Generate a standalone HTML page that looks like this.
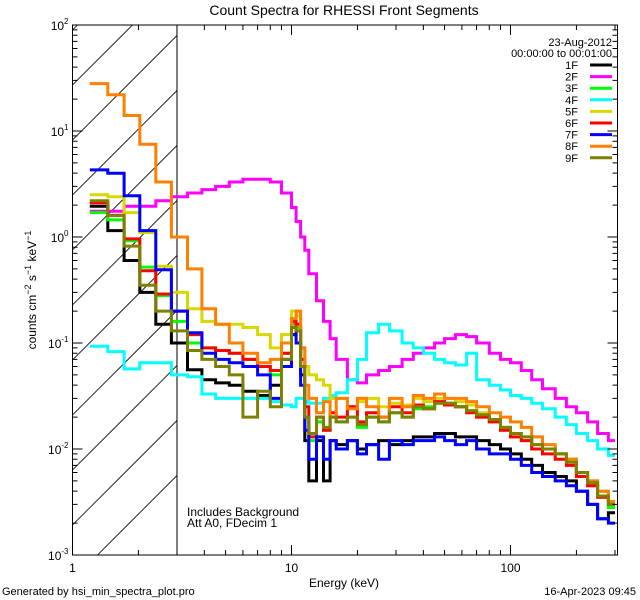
<!DOCTYPE html>
<html><head><meta charset="utf-8">
<style>
html,body{margin:0;padding:0;background:#fff;}
svg{display:block;font-family:"Liberation Sans",sans-serif;}
</style></head>
<body>
<svg id="chart" width="640" height="600" viewBox="0 0 640 600" xmlns="http://www.w3.org/2000/svg">
<rect width="640" height="600" fill="#fff"/>
<text x="344" y="15" font-size="14" text-anchor="middle">Count Spectra for RHESSI Front Segments</text>
<defs>
<clipPath id="pc"><rect x="72.5" y="25" width="545" height="530"/></clipPath>
<clipPath id="hc"><rect x="72.5" y="25" width="104.5" height="530"/></clipPath>
</defs>
<g id="hatch"></g>
<g id="series" clip-path="url(#pc)"></g>
<g id="axes"></g>
<text x="612" y="46" font-size="11" text-anchor="end">23-Aug-2012</text>
<text x="612" y="57" font-size="11" text-anchor="end">00:00:00 to 00:01:00</text>
<g id="legend"></g>
<text x="187" y="516" font-size="12">Includes Background</text>
<text x="187" y="527" font-size="12">Att A0, FDecim 1</text>
<text x="344" y="587" font-size="12" text-anchor="middle">Energy (keV)</text>
<text x="2" y="595" font-size="11">Generated by hsi_min_spectra_plot.pro</text>
<text x="636" y="595" font-size="11" text-anchor="end">16-Apr-2023 09:45</text>
<text transform="translate(36,290) rotate(-90)" font-size="12" text-anchor="middle">counts cm<tspan dy="-5" font-size="9">−2</tspan><tspan dy="5"> s</tspan><tspan dy="-5" font-size="9">−1</tspan><tspan dy="5"> keV</tspan><tspan dy="-5" font-size="9">−1</tspan></text>
</svg>
<script>
const edges=[1.2,1.45,1.72,2.03,2.4,2.83,3.35,3.9,4.5,5.2,6,7,8,9,10,10.5,11,11.5,12,13,14,15,16,18,20,22,25,28,32,36,40,45,50,56,63,70,80,90,100,112,125,140,160,180,200,225,250,280,300];
const seriesNames=["1F","2F","3F","4F","5F","6F","7F","8F","9F"];
const seriesColors=["#000000","#ff00ff","#00ff00","#00ffff","#d8d800","#ff0000","#0000ff","#ff8000","#808000"];
const s1F=[1.95,1.15,0.6,0.3,0.15,0.1,0.056,0.045,0.042,0.04,0.035,0.032,0.04,0.07,0.12,0.14,0.05,0.012,0.005,0.012,0.005,0.012,0.011,0.012,0.01,0.011,0.012,0.011,0.012,0.013,0.013,0.014,0.014,0.013,0.013,0.012,0.011,0.01,0.009,0.008,0.007,0.006,0.0055,0.005,0.004,0.003,0.0022,0.0025];
const s2F=[1.75,1.75,1.95,1.95,2.2,2.4,2.6,2.8,3.0,3.3,3.5,3.5,3.3,2.6,1.9,1.4,1.0,0.75,0.45,0.25,0.16,0.11,0.07,0.045,0.042,0.05,0.055,0.06,0.07,0.08,0.09,0.1,0.11,0.12,0.115,0.1,0.08,0.07,0.065,0.055,0.045,0.037,0.03,0.025,0.022,0.018,0.014,0.012];
const s3F=[1.7,1.45,0.92,0.52,0.28,0.16,0.1,0.09,0.085,0.08,0.07,0.06,0.05,0.08,0.15,0.14,0.06,0.02,0.012,0.018,0.015,0.02,0.018,0.02,0.016,0.02,0.018,0.022,0.02,0.024,0.025,0.027,0.027,0.025,0.023,0.02,0.018,0.016,0.014,0.013,0.011,0.01,0.009,0.008,0.006,0.005,0.004,0.0028];
const s4F=[0.093,0.083,0.057,0.065,0.065,0.05,0.048,0.033,0.03,0.03,0.03,0.03,0.028,0.026,0.025,0.03,0.03,0.028,0.027,0.027,0.03,0.032,0.034,0.045,0.07,0.125,0.15,0.13,0.1,0.09,0.08,0.07,0.065,0.062,0.08,0.045,0.04,0.036,0.032,0.03,0.027,0.024,0.02,0.017,0.014,0.012,0.01,0.0087];
const s5F=[2.5,2.4,1.7,1.1,0.53,0.3,0.21,0.16,0.15,0.15,0.14,0.12,0.09,0.12,0.2,0.18,0.09,0.06,0.05,0.045,0.04,0.03,0.03,0.025,0.028,0.03,0.025,0.027,0.026,0.03,0.028,0.03,0.03,0.028,0.026,0.022,0.018,0.015,0.013,0.012,0.011,0.01,0.009,0.008,0.006,0.0045,0.0035,0.003];
const s6F=[2.1,1.6,0.96,0.48,0.29,0.2,0.12,0.09,0.085,0.08,0.07,0.06,0.055,0.08,0.16,0.15,0.07,0.025,0.013,0.02,0.015,0.022,0.02,0.025,0.018,0.022,0.02,0.025,0.022,0.026,0.024,0.028,0.026,0.025,0.022,0.02,0.018,0.015,0.013,0.012,0.01,0.009,0.008,0.007,0.0055,0.0045,0.0035,0.003];
const s7F=[4.3,4.0,2.45,1.15,0.49,0.2,0.125,0.08,0.07,0.065,0.06,0.05,0.03,0.06,0.12,0.1,0.04,0.015,0.008,0.013,0.008,0.012,0.01,0.012,0.009,0.011,0.008,0.012,0.011,0.012,0.012,0.013,0.012,0.011,0.012,0.01,0.009,0.009,0.008,0.007,0.006,0.0055,0.005,0.0045,0.004,0.003,0.0022,0.002];
const s8F=[28,22,14,7.5,3.3,1.0,0.5,0.21,0.15,0.1,0.08,0.065,0.07,0.1,0.17,0.2,0.09,0.04,0.03,0.022,0.028,0.02,0.03,0.024,0.03,0.025,0.02,0.03,0.025,0.032,0.03,0.033,0.03,0.03,0.028,0.025,0.022,0.02,0.018,0.016,0.013,0.011,0.009,0.008,0.006,0.005,0.004,0.0032];
const s9F=[2.2,1.6,0.82,0.35,0.2,0.13,0.085,0.07,0.06,0.05,0.02,0.035,0.025,0.07,0.14,0.13,0.06,0.02,0.014,0.02,0.016,0.02,0.018,0.02,0.017,0.02,0.018,0.022,0.02,0.025,0.024,0.027,0.027,0.025,0.023,0.021,0.019,0.016,0.014,0.013,0.011,0.01,0.009,0.0075,0.006,0.0048,0.0036,0.003];
const allSeries=[s1F,s2F,s3F,s4F,s5F,s6F,s7F,s8F,s9F];
const xTickLabels=["1","10","100"];
const yTickExps=["2","1","0","-1","-2","-3"];

const NS="http://www.w3.org/2000/svg";
const L=72.5,R=617.5,T=25,B=555,DX=219,DY=106;
function X(e){return L+DX*Math.log10(e);}
function Y(v){return B-DY*(Math.log10(v)+3);}
function mk(tag,attrs,parent){const el=document.createElementNS(NS,tag);for(const k in attrs)el.setAttribute(k,attrs[k]);parent.appendChild(el);return el;}

// hatch
const hatch=document.getElementById('hatch');
let hd="";
for(let k=580;k>-120;k-=55){hd+=`M${L},${k} L${L+200},${k-200} `;}
const hp=mk('path',{d:hd,stroke:'#000','stroke-width':0.8,fill:'none','clip-path':'url(#hc)'},hatch);


const hb=mk('line',{x1:X(3),x2:X(3),y1:T,y2:B,stroke:'#000','stroke-width':1},hatch);



// series
const sg=document.getElementById('series');
allSeries.forEach((vals,si)=>{
  let d="";
  for(let i=0;i<vals.length;i++){
    const y=Y(vals[i]).toFixed(1);
    if(i===0)d+=`M${X(edges[0]).toFixed(1)},${y}`;else d+=` V${y}`;
    d+=` H${X(edges[i+1]).toFixed(1)}`;
  }
  const p=mk('path',{d:d,stroke:seriesColors[si],'stroke-width':3,fill:'none','stroke-linejoin':'miter'},sg);
  
  
});

// axes
const ax=document.getElementById('axes');
const frame=mk('rect',{x:L,y:T,width:R-L,height:B-T,fill:'none',stroke:'#000','stroke-width':1},ax);


let td="";
for(let dec=0;dec<3;dec++){
  for(let m=1;m<10;m++){
    const e=Math.pow(10,dec)*m; const x=X(e); if(x>R+0.5)continue;
    const len=(m===1)?10:5;
    td+=`M${x},${B} V${B-len} M${x},${T} V${T+len} `;
  }
}
for(let dec=-3;dec<2;dec++){
  for(let m=1;m<10;m++){
    const y=Y(Math.pow(10,dec)*m); const len=(m===1)?10:5;
    td+=`M${L},${y} H${L+len} M${R},${y} H${R-len} `;
  }
}
td+=`M${L},${T} H${L+10} M${R},${T} H${R-10}`;
const tp=mk('path',{d:td,stroke:'#000','stroke-width':1,fill:'none'},ax);


xTickLabels.forEach((lab,i)=>{
  const t=mk('text',{x:X(Math.pow(10,i)),y:572,'font-size':12,'text-anchor':'middle'},ax);
  t.textContent=lab;
  
  
});
yTickExps.forEach((ex)=>{
  const y=Y(Math.pow(10,+ex));
  const t=mk('text',{x:L-4,y:y+5,'font-size':12,'text-anchor':'end'},ax);
  t.innerHTML=`10<tspan dy="-6" font-size="8">${ex}</tspan>`;
  
  
});

// legend
const lg=document.getElementById('legend');
seriesNames.forEach((n,i)=>{
  const y=65+i*11.6;
  const t=mk('text',{x:578,y:y+4,'font-size':11,'text-anchor':'end'},lg);
  t.textContent=n;
  
  
  const l=mk('line',{x1:590,x2:612,y1:y,y2:y,stroke:seriesColors[i],'stroke-width':3},lg);
  
  
});
</script>
</body></html>
